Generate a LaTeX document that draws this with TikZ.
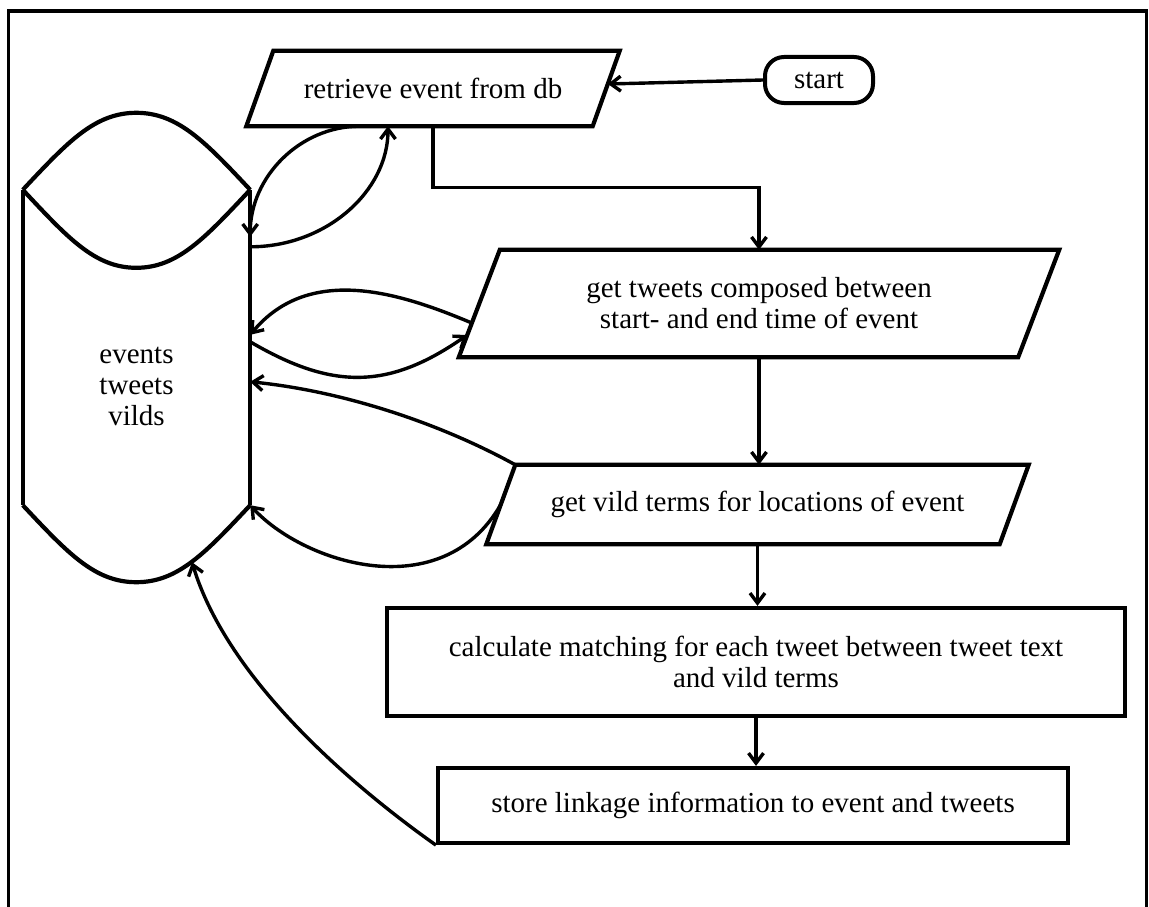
\documentclass[tikz,border=0pt]{standalone}
\usepackage{fontspec}
\setmainfont{Liberation Serif}
\usetikzlibrary{arrows.meta}
\begin{document}
\begin{tikzpicture}[x=1pt,y=-1pt,
  every node/.style={font=\fontsize{29pt}{31pt}\selectfont, inner sep=0pt, align=center},
  outline/.style={line width=4.2pt},
  iobox/.style={rectangle},
  procbox/.style={rectangle, draw, line width=4.2pt},
  termbox/.style={rectangle, draw, line width=4pt, rounded corners=19pt},
  conn/.style={line width=3.4pt, -{Straight Barb[length=10pt,width=15pt]}},
]
\useasboundingbox (0,0) rectangle (1149,907);

% outer frame (open at the bottom)
\draw[line width=3.2pt] (8.5,907) -- (8.5,11) -- (1146.5,11) -- (1146.5,907);

% flow steps
\node[termbox, minimum width=108pt, minimum height=46pt] (start) at (819,80) {\raisebox{-2pt}{start}};
\node[iobox, minimum width=346pt, minimum height=75pt] (ret) at (433,88.5) {retrieve event from db};
\node[iobox, minimum width=559pt, minimum height=107pt] (tw) at (759,303.5)
  {get tweets composed between\\start- and end time of event};
\node[iobox, minimum width=513pt, minimum height=79pt] (vild) at (757.5,504.5)
  {get vild terms for locations of event};
\node[procbox, minimum width=738pt, minimum height=108pt] (calc) at (756,662)
  {calculate matching for each tweet between tweet text\\and vild terms};
\node[procbox, minimum width=630pt, minimum height=75pt] (store) at (753,805.5)
  {store linkage information to event and tweets};

% parallelogram outlines of the input/output steps
\foreach \n/\s in {ret/13.5, tw/20.5, vild/14.5}
  \draw[outline] ([xshift=\s pt]\n.north west) -- ([xshift=\s pt]\n.north east)
    -- ([xshift=-\s pt]\n.south east) -- ([xshift=-\s pt]\n.south west) -- cycle;

% database cylinder
\node[minimum width=227pt, minimum height=315pt] (db) at (136.5,347.5) {};
\node (dbtext) at (136.5,386) {events\\tweets\\vilds};
\draw[outline] (db.north west) -- (db.south west);
\draw[outline] (db.north east) -- (db.south east);
\draw[outline] (db.north west) .. controls +(45,-48) and +(-41.5,0) .. ++(113.5,-77)
  .. controls +(41.5,0) and +(-45,-48) .. (db.north east);
\draw[outline] (db.north west) .. controls +(45,48) and +(-41.5,0) .. ++(113.5,78)
  .. controls +(41.5,0) and +(-45,48) .. (db.north east);
\draw[outline] (db.south west) .. controls +(45,48) and +(-41.5,0) .. ++(113.5,77)
  .. controls +(41.5,0) and +(-45,48) .. (db.south east);

% main flow
\draw[conn] (start.west) -- ([shift={(1.7pt,4.5pt)}]ret.east);
\draw[conn] (ret.south) -- ++(0,61) -| (tw.north);
\draw[conn] (tw.south) -- (tw.south |- vild.north);
\draw[conn] (vild.south) -- (vild.south |- calc.north);
\draw[conn] (calc.south) -- (calc.south |- store.north);

% reads and writes to the database
\draw[conn] ([xshift=-73pt]ret.south) .. controls +(-60,0) and +(0,-60) .. ([yshift=-47pt]db.north east);
\draw[conn] ([yshift=-57pt]db.north east) .. controls +(76,0) and +(0,65) .. ([xshift=-45pt]ret.south);
\draw[conn] ([shift={(-7.5pt,-19.5pt)}]tw.west) .. controls +(-69,-29) and +(60,-72) .. ([yshift=-145pt]db.north east);
\draw[conn] ([yshift=-152pt]db.north east) .. controls +(82,48) and +(-79,55) .. ([shift={(-12.1pt,-31.5pt)}]tw.west);
\draw[conn] ([xshift=14.5pt]vild.north west) .. controls +(-78,-43) and +(90,9) .. ([yshift=-192pt]db.north east);
\draw[conn] (vild.west) .. controls +(-59,103) and +(53,58) .. (db.south east);
\draw[conn] (store.south west) .. controls +(-68,-48) and +(38,125) .. ([shift={(55.5pt,-57pt)}]db.south);
\end{tikzpicture}
\end{document}
